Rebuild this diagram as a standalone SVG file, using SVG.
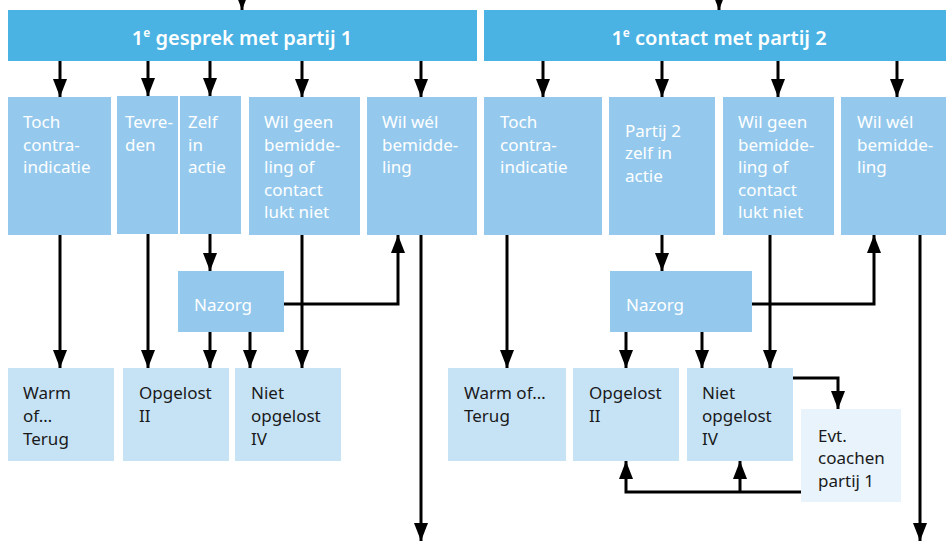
<svg xmlns="http://www.w3.org/2000/svg" width="946" height="543" viewBox="0 0 946 543">
<style>
.hdr{fill:#4ab3e4}
.b1{fill:#94c9ed}
.b2{fill:#c6e3f6}
.b3{fill:#e8f3fc}
.ht{font-family:"Noto Sans","Open Sans",sans-serif;font-size:20px;font-weight:600;fill:#fff;text-anchor:middle}
.wt{font-family:"Noto Sans","Open Sans",sans-serif;font-size:17px;fill:#fff}
.dt{font-family:"Noto Sans","Open Sans",sans-serif;font-size:17px;fill:#1a1a1a}
.ln{fill:none;stroke:#000;stroke-width:3}
</style>
<defs>
<marker id="ah" markerUnits="userSpaceOnUse" viewBox="0 0 18 14" markerWidth="18" markerHeight="14" refX="18" refY="7" orient="auto">
<path d="M0,0 L18,7 L0,14 z" fill="#000"/>
</marker>
</defs>
<rect width="946" height="543" fill="#fff"/>

<g id="h1"><rect class="hdr" x="8" y="10" width="469" height="51"/><text class="ht" x="242" y="45">1<tspan font-size="12" dy="-8">e</tspan><tspan dy="8"> gesprek met partij 1</tspan></text></g>
<g id="h2"><rect class="hdr" x="484" y="10" width="462" height="51"/><text class="ht" x="719" y="45">1<tspan font-size="12" dy="-8">e</tspan><tspan dy="8"> contact met partij 2</tspan></text></g>

<g id="toch1"><rect class="b1" x="8" y="97" width="103" height="138"/><text class="wt"><tspan x="23" y="128">Toch</tspan><tspan x="23" y="151">contra-</tspan><tspan x="23" y="173">indicatie</tspan></text></g>
<g id="tevreden"><rect class="b1" x="117" y="96" width="61" height="138"/><text class="wt"><tspan x="125" y="128">Tevre-</tspan><tspan x="125" y="151">den</tspan></text></g>
<g id="zelf"><rect class="b1" x="180" y="96" width="61" height="138"/><text class="wt"><tspan x="188" y="128">Zelf</tspan><tspan x="188" y="151">in</tspan><tspan x="188" y="173">actie</tspan></text></g>
<g id="wilgeen1"><rect class="b1" x="249" y="97" width="111" height="138"/><text class="wt"><tspan x="264" y="128">Wil geen</tspan><tspan x="264" y="151">bemidde-</tspan><tspan x="264" y="173">ling of</tspan><tspan x="264" y="196">contact</tspan><tspan x="264" y="218">lukt niet</tspan></text></g>
<g id="wilwel1"><rect class="b1" x="367" y="97" width="110" height="138"/><text class="wt"><tspan x="382" y="128">Wil wél</tspan><tspan x="382" y="151">bemidde-</tspan><tspan x="382" y="173">ling</tspan></text></g>

<g id="toch2"><rect class="b1" x="484" y="97" width="118" height="138"/><text class="wt"><tspan x="500" y="128">Toch</tspan><tspan x="500" y="151">contra-</tspan><tspan x="500" y="173">indicatie</tspan></text></g>
<g id="partij2"><rect class="b1" x="609" y="97" width="106" height="138"/><text class="wt"><tspan x="625" y="137">Partij 2</tspan><tspan x="625" y="159">zelf in</tspan><tspan x="625" y="182">actie</tspan></text></g>
<g id="wilgeen2"><rect class="b1" x="723" y="97" width="111" height="138"/><text class="wt"><tspan x="738" y="128">Wil geen</tspan><tspan x="738" y="151">bemidde-</tspan><tspan x="738" y="173">ling of</tspan><tspan x="738" y="196">contact</tspan><tspan x="738" y="218">lukt niet</tspan></text></g>
<g id="wilwel2"><rect class="b1" x="841" y="97" width="105" height="138"/><text class="wt"><tspan x="857" y="128">Wil wél</tspan><tspan x="857" y="151">bemidde-</tspan><tspan x="857" y="173">ling</tspan></text></g>

<g id="nazorg1"><rect class="b1" x="178" y="271" width="106" height="61"/><text class="wt" x="194" y="311">Nazorg</text></g>
<g id="nazorg2"><rect class="b1" x="610" y="271" width="142" height="61"/><text class="wt" x="626" y="311">Nazorg</text></g>

<g id="warm1"><rect class="b2" x="8" y="368" width="106" height="93"/><text class="dt"><tspan x="23" y="399">Warm</tspan><tspan x="23" y="422">of…</tspan><tspan x="23" y="445">Terug</tspan></text></g>
<g id="opgelost1"><rect class="b2" x="123" y="368" width="106" height="93"/><text class="dt"><tspan x="139" y="399">Opgelost</tspan><tspan x="139" y="422">II</tspan></text></g>
<g id="niet1"><rect class="b2" x="235" y="368" width="106" height="93"/><text class="dt"><tspan x="251" y="399">Niet</tspan><tspan x="251" y="422">opgelost</tspan><tspan x="251" y="445">IV</tspan></text></g>

<g id="warm2"><rect class="b2" x="448" y="368" width="118" height="93"/><text class="dt"><tspan x="464" y="399">Warm of…</tspan><tspan x="464" y="422">Terug</tspan></text></g>
<g id="opgelost2"><rect class="b2" x="573" y="368" width="106" height="93"/><text class="dt"><tspan x="589" y="399">Opgelost</tspan><tspan x="589" y="422">II</tspan></text></g>
<g id="niet2"><rect class="b2" x="687" y="368" width="106" height="93"/><text class="dt"><tspan x="702" y="399">Niet</tspan><tspan x="702" y="422">opgelost</tspan><tspan x="702" y="445">IV</tspan></text></g>
<g id="evt"><rect class="b3" x="801" y="409" width="100" height="93"/><text class="dt"><tspan x="818" y="442">Evt.</tspan><tspan x="818" y="464">coachen</tspan><tspan x="818" y="487">partij 1</tspan></text></g>

<g id="connectors">
<path class="ln" marker-end="url(#ah)" d="M242,-20 V10"/>
<path class="ln" marker-end="url(#ah)" d="M719,-20 V10"/>
<path class="ln" marker-end="url(#ah)" d="M60,61 V97"/>
<path class="ln" marker-end="url(#ah)" d="M148,61 V96"/>
<path class="ln" marker-end="url(#ah)" d="M210,61 V96"/>
<path class="ln" marker-end="url(#ah)" d="M302,61 V97"/>
<path class="ln" marker-end="url(#ah)" d="M421,61 V97"/>
<path class="ln" marker-end="url(#ah)" d="M543,61 V97"/>
<path class="ln" marker-end="url(#ah)" d="M662,61 V97"/>
<path class="ln" marker-end="url(#ah)" d="M778,61 V97"/>
<path class="ln" marker-end="url(#ah)" d="M897,61 V97"/>

<path class="ln" marker-end="url(#ah)" d="M60,235 V368"/>
<path class="ln" marker-end="url(#ah)" d="M148,234 V368"/>
<path class="ln" marker-end="url(#ah)" d="M210,234 V271"/>
<path class="ln" marker-end="url(#ah)" d="M210,332 V368"/>
<path class="ln" marker-end="url(#ah)" d="M250,332 V368"/>
<path class="ln" marker-end="url(#ah)" d="M302,235 V368"/>
<path class="ln" marker-end="url(#ah)" d="M284,304 H398 V235"/>
<path class="ln" marker-end="url(#ah)" d="M421,235 V541"/>

<path class="ln" marker-end="url(#ah)" d="M507,235 V368"/>
<path class="ln" marker-end="url(#ah)" d="M662,235 V271"/>
<path class="ln" marker-end="url(#ah)" d="M626,332 V368"/>
<path class="ln" marker-end="url(#ah)" d="M702,332 V368"/>
<path class="ln" marker-end="url(#ah)" d="M770,235 V368"/>
<path class="ln" marker-end="url(#ah)" d="M752,304 H874 V235"/>
<path class="ln" marker-end="url(#ah)" d="M920,235 V541"/>
<path class="ln" marker-end="url(#ah)" d="M793,378 H838 V409"/>
<path class="ln" marker-end="url(#ah)" d="M801,492 H626 V461"/>
<path class="ln" marker-end="url(#ah)" d="M740,492 V461"/>
</g>
</svg>
